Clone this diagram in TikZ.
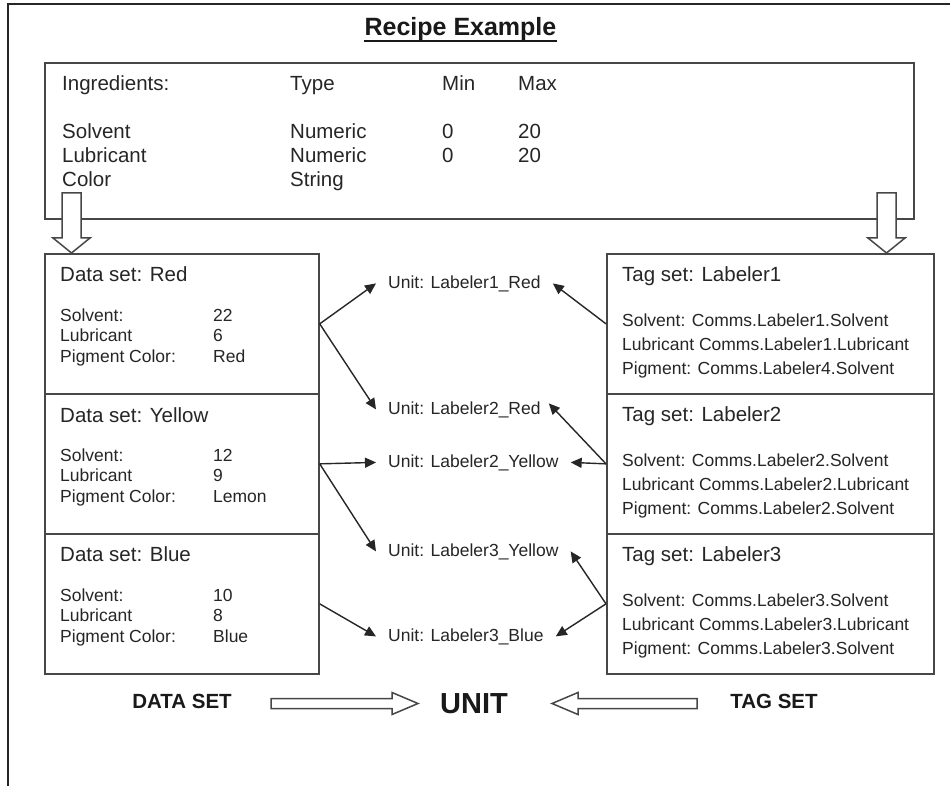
\documentclass[tikz,border=0pt]{standalone}
\usepackage{fontspec}
\setmainfont{Liberation Sans}
\usetikzlibrary{arrows.meta,calc}
\begin{document}
\begin{tikzpicture}[x=1pt,y=-1pt,
  outerline/.style={draw=black!85, line width=1.8pt},
  setbox/.style={draw=black!72, line width=1.7pt, anchor=north west, inner sep=0pt, minimum width=#1},
  bodytxt/.style={font=\fontsize{20.5}{24}\selectfont, text=black!85, anchor=base west, inner sep=0pt},
  smalltxt/.style={font=\fontsize{17.5}{20}\selectfont, text=black!85, anchor=base west, inner sep=0pt},
  unitlbl/.style={font=\fontsize{17.5}{20}\selectfont, text=black!85, inner xsep=12pt, inner ysep=2pt, anchor=base west},
  conn/.style={-{Triangle[length=11pt,width=10pt]}, line width=1.4pt, draw=black!85},
  hollow/.style={draw=black!72, line width=1.5pt, fill=white, line join=miter},
  botlbl/.style={font=\bfseries\fontsize{20.5}{24}\selectfont, text=black!90, inner sep=0pt, anchor=base}
]
\useasboundingbox (0,0) rectangle (950,786);
\fill[white] (0,0) rectangle (950,786);

% outer frame (top and left edges)
\draw[outerline] (950,4) -- (8,4) -- (8,786);

% title
\node[font=\bfseries\fontsize{25}{30}\selectfont, text=black!90, inner sep=0pt, anchor=base] (title) at (460.5,36) {Recipe Example};
\draw[line width=2.4pt, black!90] ([yshift=-5pt]title.base west) -- ([yshift=-5pt]title.base east);

% recipe box
\node[setbox=869pt, minimum height=156pt] (recipe) at (44,62) {};
\node[bodytxt] (ing) at (62,91) {Ingredients:};
\node[bodytxt] (typ) at (290,91) {Type};
\node[bodytxt] (mn) at (442,91) {Min};
\node[bodytxt] (mx) at (518,91) {Max};
\node[bodytxt] (r1a) at (62,139) {Solvent};
\node[bodytxt] (r1b) at (290,139) {Numeric};
\node[bodytxt] (r1c) at (442,139) {0};
\node[bodytxt] (r1d) at (518,139) {20};
\node[bodytxt] (r2a) at (62,163) {Lubricant};
\node[bodytxt] (r2b) at (290,163) {Numeric};
\node[bodytxt] (r2c) at (442,163) {0};
\node[bodytxt] (r2d) at (518,163) {20};
\node[bodytxt] (r3a) at (62,187) {Color};
\node[bodytxt] (r3b) at (290,187) {String};

% data set boxes
\node[setbox=274pt, minimum height=140pt] (red) at (44,253) {};
\node[setbox=274pt, minimum height=140pt] (yellow) at (44,393) {};
\node[setbox=274pt, minimum height=140pt] (blue) at (44,533) {};

\node[bodytxt] (redt) at (60,282) {Data set: Red};
\node[smalltxt] (reda) at (60,321) {Solvent:};
\node[smalltxt] (redav) at (213,321) {22};
\node[smalltxt] (redb) at (60,341) {Lubricant};
\node[smalltxt] (redbv) at (213,341) {6};
\node[smalltxt] (redc) at (60,362) {Pigment Color:};
\node[smalltxt] (redcv) at (213,362) {Red};

\node[bodytxt] (yelt) at (60,422) {Data set: Yellow};
\node[smalltxt] (yela) at (60,461) {Solvent:};
\node[smalltxt] (yelav) at (213,461) {12};
\node[smalltxt] (yelb) at (60,481) {Lubricant};
\node[smalltxt] (yelbv) at (213,481) {9};
\node[smalltxt] (yelc) at (60,502) {Pigment Color:};
\node[smalltxt] (yelcv) at (213,502) {Lemon};

\node[bodytxt] (blut) at (60,561) {Data set: Blue};
\node[smalltxt] (blua) at (60,601) {Solvent:};
\node[smalltxt] (bluav) at (213,601) {10};
\node[smalltxt] (blub) at (60,621) {Lubricant};
\node[smalltxt] (blubv) at (213,621) {8};
\node[smalltxt] (bluc) at (60,642) {Pigment Color:};
\node[smalltxt] (blucv) at (213,642) {Blue};

% tag set boxes
\node[setbox=327pt, minimum height=140pt] (tag1) at (606,253) {};
\node[setbox=327pt, minimum height=140pt] (tag2) at (606,393) {};
\node[setbox=327pt, minimum height=140pt] (tag3) at (606,533) {};

\node[bodytxt] (t1t) at (622,281) {Tag set: Labeler1};
\node[smalltxt] (t1a) at (622,326) {Solvent: Comms.Labeler1.Solvent};
\node[smalltxt] (t1b) at (622,350) {Lubricant Comms.Labeler1.Lubricant};
\node[smalltxt] (t1c) at (622,374) {Pigment: Comms.Labeler4.Solvent};

\node[bodytxt] (t2t) at (622,421) {Tag set: Labeler2};
\node[smalltxt] (t2a) at (622,466) {Solvent: Comms.Labeler2.Solvent};
\node[smalltxt] (t2b) at (622,490) {Lubricant Comms.Labeler2.Lubricant};
\node[smalltxt] (t2c) at (622,514) {Pigment: Comms.Labeler2.Solvent};

\node[bodytxt] (t3t) at (622,561) {Tag set: Labeler3};
\node[smalltxt] (t3a) at (622,606) {Solvent: Comms.Labeler3.Solvent};
\node[smalltxt] (t3b) at (622,630) {Lubricant Comms.Labeler3.Lubricant};
\node[smalltxt] (t3c) at (622,654) {Pigment: Comms.Labeler3.Solvent};

% units
\node[unitlbl] (u1r) at (376,288) {Unit: Labeler1\_Red};
\node[unitlbl] (u2r) at (376,414) {Unit: Labeler2\_Red};
\node[unitlbl] (u2y) at (376,467) {Unit: Labeler2\_Yellow};
\node[unitlbl] (u3y) at (376,556) {Unit: Labeler3\_Yellow};
\node[unitlbl] (u3b) at (376,641) {Unit: Labeler3\_Blue};

% connectors
\draw[conn] (red.east) -- (u1r.west);
\draw[conn] (red.east) -- (u2r.west);
\draw[conn] (yellow.east) -- (u2y.west);
\draw[conn] (yellow.east) -- (u3y.west);
\draw[conn] (blue.east) -- (u3b.west);
\draw[conn] (tag1.west) -- (u1r.east);
\draw[conn] (tag2.west) -- ([xshift=-4pt,yshift=6pt]u2r.east);
\draw[conn] (tag2.west) -- (u2y.east);
\draw[conn] (tag3.west) -- (u3y.east);
\draw[conn] (tag3.west) -- (u3b.east);

% hollow down arrows from recipe box
\draw[hollow] (62,193) -- (81,193) -- (81,238) -- (90,238) -- (71.5,253) -- (53,238) -- (62,238) -- cycle;
\draw[hollow] (877,193) -- (896,193) -- (896,238) -- (905,238) -- (886.5,253) -- (868,238) -- (877,238) -- cycle;

% bottom legend
\node[botlbl] (lds) at (182,708) {DATA SET};
\node[font=\bfseries\fontsize{29}{34}\selectfont, text=black!90, inner sep=0pt, anchor=base] (lunit) at (474,713) {UNIT};
\node[botlbl] (lts) at (774,708) {TAG SET};
\draw[hollow] (271,698.5) -- (392,698.5) -- (392,692.5) -- (418,703.5) -- (392,714.5) -- (392,708.5) -- (271,708.5) -- cycle;
\draw[hollow] (697,698.5) -- (578,698.5) -- (578,692.5) -- (552,703.5) -- (578,714.5) -- (578,708.5) -- (697,708.5) -- cycle;
\end{tikzpicture}
\end{document}
